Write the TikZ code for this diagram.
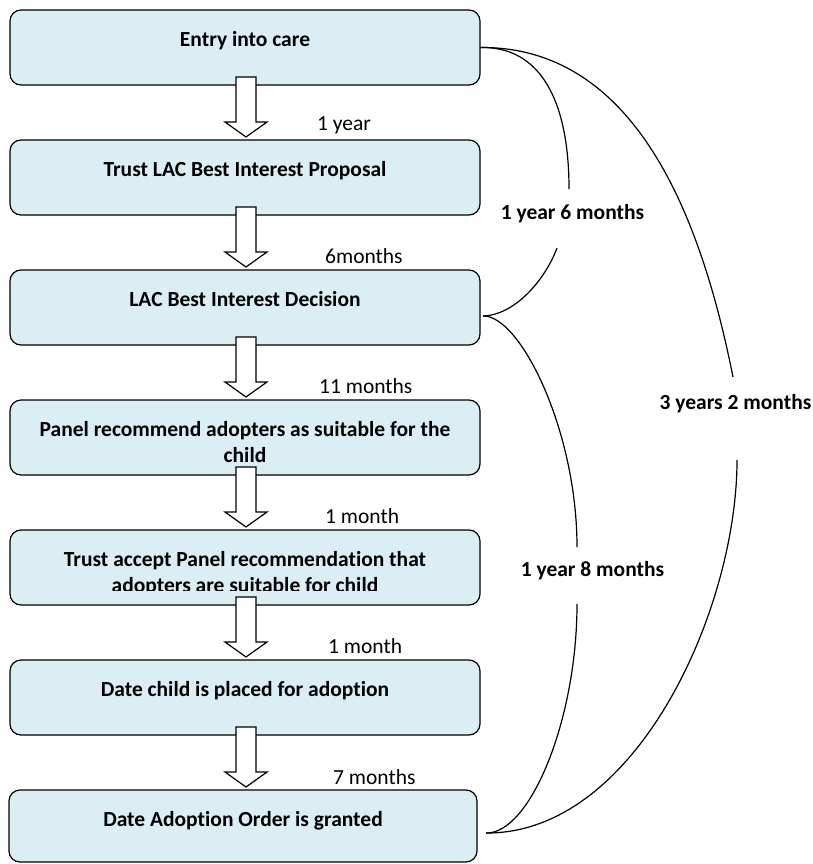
\documentclass[tikz,border=0pt]{standalone}
\usepackage{fontspec}
\setmainfont{Carlito}[Ligatures={NoCommon}]
\usetikzlibrary{positioning}

\definecolor{boxblue}{HTML}{DAEEF3}
\newcommand\diagfont{\fontsize{21.5pt}{26pt}\selectfont}

\tikzset{
  stage/.style={draw, rounded corners=11pt, fill=boxblue, line width=1.2pt,
    minimum width=470pt, minimum height=75pt, outer sep=0pt, inner sep=0pt},
  stagetext/.style={font=\diagfont\bfseries, align=center, anchor=north, inner sep=0pt},
  gap/.style={font=\diagfont, anchor=base west, inner sep=0pt},
  span/.style={font=\diagfont\bfseries, inner sep=0pt},
  curve/.style={line width=1.2pt},
  flow/.pic={\draw[line width=1.2pt, fill=white, line join=miter]
    (-10,0) -- (-10,45) -- (-21,45) -- (0,60) -- (21,45) -- (10,45) -- (10,0) -- cycle;}
}

\begin{document}
\begin{tikzpicture}[x=1pt, y=-1pt]
  \useasboundingbox (0,0) rectangle (813,864);

  % stages
  \node[stage] (entry) at (245,47.5) {};
  \node[stage, below=55pt of entry] (proposal) {};
  \node[stage, below=55pt of proposal] (decision) {};
  \node[stage, below=55pt of decision] (panel) {};
  \node[stage, below=55pt of panel] (accept) {};
  \node[stage, below=55pt of accept] (placed) {};
  \node[stage, below=55pt of placed, minimum width=468pt, minimum height=72pt, xshift=-2pt] (adoption) {};

  \node[stagetext] (entry-t) at ([yshift=-21pt]entry.north) {Entry into care};
  \node[stagetext] (proposal-t) at ([yshift=-21pt]proposal.north) {Trust LAC Best Interest Proposal};
  \node[stagetext] (decision-t) at ([yshift=-21pt]decision.north) {LAC Best Interest Decision};
  \node[stagetext] (panel-t) at ([yshift=-21pt]panel.north) {Panel recommend adopters as suitable for the\\child};
  \begin{scope}
    \clip (0,529) rectangle (813,590);
    \node[stagetext] (accept-t) at ([yshift=-21pt]accept.north) {Trust accept Panel recommendation that\\adopters are suitable for child};
  \end{scope}
  \node[stagetext] (placed-t) at ([yshift=-21pt]placed.north) {Date child is placed for adoption};
  \node[stagetext] (adoption-t) at ([yshift=-21pt]adoption.north) {Date Adoption Order is granted};

  % block arrows between stages
  \foreach \src in {entry, proposal, decision, panel, accept, placed}
    \pic at ([xshift=1pt, yshift=8pt]\src.south) {flow};

  % times between stages
  \node[gap] (t1) at ([xshift=72pt, yshift=9pt]proposal.north) {1 year};
  \node[gap] (t2) at ([xshift=80pt, yshift=7pt]decision.north) {6months};
  \node[gap] (t3) at ([xshift=74pt, yshift=7pt]panel.north) {11 months};
  \node[gap] (t4) at ([xshift=80pt, yshift=7pt]accept.north) {1 month};
  \node[gap] (t5) at ([xshift=83pt, yshift=7pt]placed.north) {1 month};
  \node[gap] (t6) at ([xshift=90pt, yshift=6pt]adoption.north) {7 months};

  % spans
  \coordinate (decision-in) at ([xshift=3pt, yshift=-8.5pt]decision.east);
  \coordinate (adoption-in) at ([xshift=9pt, yshift=-7pt]adoption.east);
  \draw[curve] (entry.east) .. controls (540,46) and (569,100) .. (569,189)
    (557,248) .. controls (545,280) and (515,315) .. (decision-in);
  \draw[curve] (decision-in) .. controls (520,315) and (577,430) .. (577,547)
    (577,604) .. controls (577,720) and (530,834) .. (adoption-in);
  \draw[curve] (entry.east) .. controls (640,46) and (703,227) .. (733,377)
    (737,460) .. controls (737,610) and (636,834) .. (adoption-in);

  \node[span] (s1) at (572.5,214) {1 year 6 months};
  \node[span] (s2) at (592.5,571) {1 year 8 months};
  \node[span] (s3) at (735.5,404) {3 years 2 months};
\end{tikzpicture}
\end{document}
